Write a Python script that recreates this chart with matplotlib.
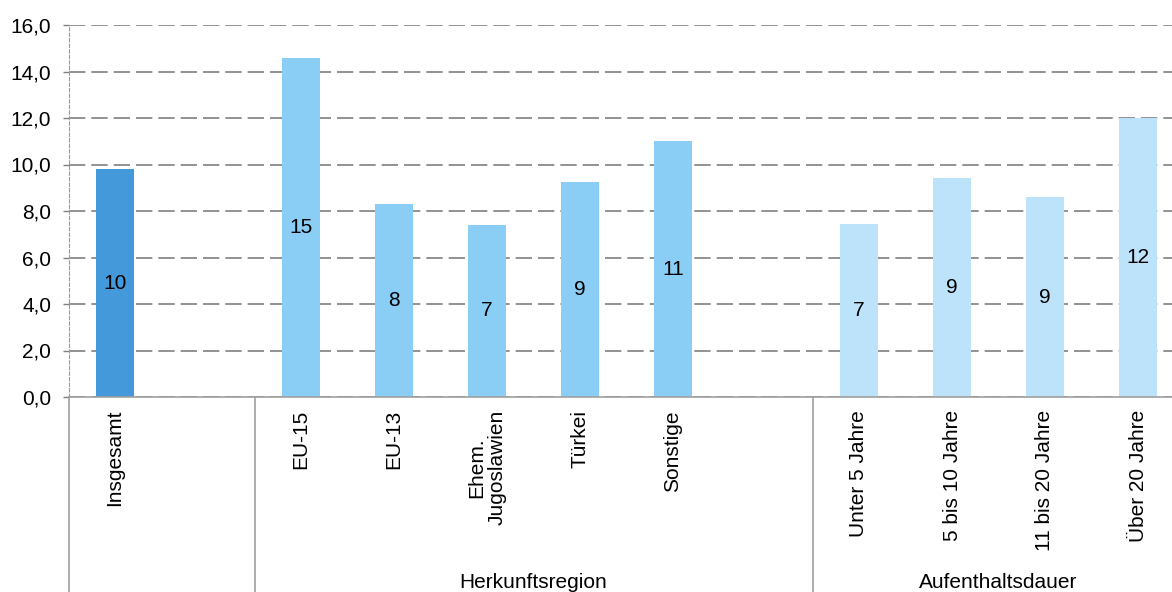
import matplotlib
matplotlib.use("Agg")
import matplotlib.pyplot as plt
import matplotlib.transforms as mtransforms

plt.rcParams['font.family'] = ['Liberation Sans', 'DejaVu Sans']

# Categories and values (Prozent)
categories = ["Insgesamt", "",
              "EU-15", "EU-13", "Ehem.\nJugoslawien", "Türkei", "Sonstige", "",
              "Unter 5 Jahre", "5 bis 10 Jahre", "11 bis 20 Jahre", "Über 20 Jahre"]
values = [9.8, None,
          14.6, 8.3, 7.4, 9.25, 11.0, None,
          7.45, 9.4, 8.6, 12.0]
groups = ["", "Herkunftsregion", "Aufenthaltsdauer"]
group_bounds = [(-0.5, 1.5), (1.5, 7.5), (7.5, 11.5)]
y_ticks = [0, 2, 4, 6, 8, 10, 12, 14, 16]

colors = ["#4499DB", None,
          "#8ACDF5", "#8ACDF5", "#8ACDF5", "#8ACDF5", "#8ACDF5", None,
          "#BDE3FB", "#BDE3FB", "#BDE3FB", "#BDE3FB"]

FS = 15
W, H = 1172, 592
fig = plt.figure(figsize=(W / 100, H / 100), dpi=100)
ax = fig.add_axes([68.5 / W, 195 / H, 1116 / W, 372 / H])

xs = [i for i, v in enumerate(values) if v is not None]
vs = [values[i] for i in xs]
cs = [colors[i] for i in xs]
bars = ax.bar(xs, vs, width=0.41, color=cs, zorder=2)
for x, v in zip(xs, vs):
    ax.text(x, v / 2, f"{v:.0f}", ha="center", va="center", fontsize=FS, zorder=3)

ax.set_xlim(-0.5, 11.5)
ax.set_ylim(0, 16)
ax.set_yticks(y_ticks)
ax.set_yticklabels([f"{t:.1f}".replace(".", ",") for t in y_ticks], fontsize=FS)
ax.tick_params(axis="y", length=4.5, width=1.0, color="#808080", pad=8)
ax.set_xticks([])

ax.set_axisbelow(True)
ax.yaxis.grid(True, color="#7F7F7F", linewidth=1.2, linestyle=(0, (9.8, 3.6)))

for s in ["top", "right"]:
    ax.spines[s].set_visible(False)
ax.spines["left"].set_color("#999999")
ax.spines["left"].set_linewidth(0.8)
ax.spines["left"].set_linestyle((0, (3, 2)))
ax.spines["bottom"].set_color("#A0A0A0")
ax.spines["bottom"].set_linewidth(1.2)

trans = mtransforms.blended_transform_factory(ax.transData, ax.transAxes)

# Category labels below the axis
for i, lab in enumerate(categories):
    if lab:
        ax.text(i, -13 / 372, lab, rotation=90, ha="center", va="top",
                multialignment="center", fontsize=FS, transform=trans,
                linespacing=1.1)

# Group separators and group labels
for (a, b), g in zip(group_bounds, groups):
    ax.plot([a, a], [0, -0.6], transform=trans, color="#A0A0A0",
            linewidth=1.2, clip_on=False)
    if g:
        ax.text((a + b) / 2, -(582 - 397) / 372, g, ha="center", va="center",
                fontsize=FS, transform=trans)

fig.savefig("out.png", dpi=100)
